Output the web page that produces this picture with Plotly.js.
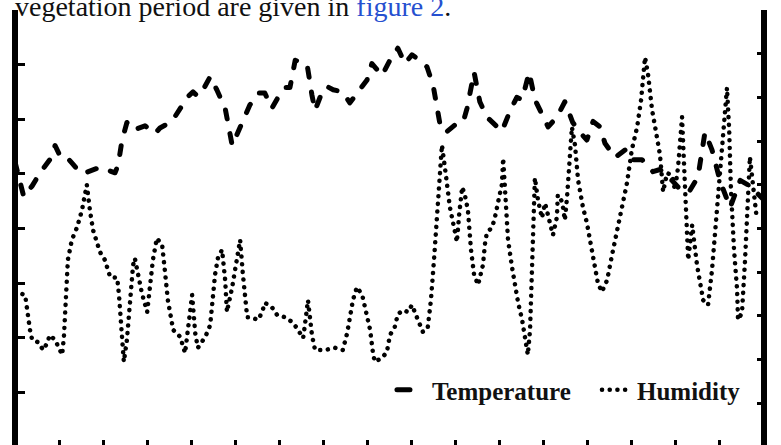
<!DOCTYPE html>
<html>
<head>
<meta charset="utf-8">
<script src="https://cdn.plot.ly/plotly-3.0.1.min.js"></script>
<style>
  html, body { margin: 0; padding: 0; background: #fff; overflow: hidden; }
  #chart { width: 781px; height: 450px; }
  .scatterlayer .js-line, .legend .js-line { stroke-linecap: round; stroke-linejoin: round; }
</style>
</head>
<body>
<div id="chart"></div>
<script>
// Day of the vegetation period (x) and readings
const tempDays = [0,2.0,3.9,5.7,7.9,9.1,10.4,11.8,12.9,14.8,15.9,19.3,22.7,23.4,24.3,25.4,26.8,29.5,31.8,32.9,35.6,37.5,39.3,40.4,41.5,42.7,44.3,45.8,47.7,49.3,50.4,51.7,53.3,55.2,56.7,58.3,59.7,61.3,62.4,63.6,66.3,67.4,68.1,69.7,70.8,72.2,74.4,76.0,77.9,79.9,81.0,83.3,85.1,86.9,88.5,90.1,91.9,93.5,94.9,95.8,96.7,98.1,99.9,101.7,102.6,104.2,105.5,107.1,110.5,112.4,113.9,115.1,116.7,118.0,119.2,121.0,123.0,124.8,126.6,128.2,129.8,131.2,132.8,133.9,136.2,138.5,139.6,142.3,144.8,146.4,149.1,151.6,153.2,155.0,156.6,158.2,160.0,162.3,164.6,166.8,170];
const temperature = [26.1,22.9,23.9,25.1,26.3,27.6,26.5,26.5,26.0,25.1,25.1,25.6,25.1,25.8,28.1,29.7,29.0,29.4,28.7,29.2,29.8,31.0,32.1,32.5,32.1,32.7,33.9,32.7,31.0,27.6,28.7,29.9,31.3,32.4,32.4,31.0,32.0,32.9,32.9,35.4,35.0,32.2,30.8,32.5,33.0,32.7,32.5,31.5,32.5,33.6,35.1,34.0,35.4,36.5,35.1,35.9,35.4,34.8,33.1,30.8,29.0,28.9,29.5,29.7,31.0,34.3,31.6,30.2,28.9,30.8,32.0,31.8,34.3,31.8,30.8,29.3,30.2,31.6,29.7,28.8,28.1,29.8,29.3,27.8,26.5,27.2,26.3,26.3,25.2,25.4,24.4,23.3,23.5,24.7,28.8,27.2,24.4,21.9,24.4,23.9,22.6];

const humDays = [0,2.3,3.4,3.9,5.2,6.4,7.3,7.9,9.1,9.8,10.7,11.1,11.6,12.0,12.9,14.1,15.2,16.3,17.0,17.7,19.3,20.4,21.6,23.2,23.6,24.3,24.7,25.4,26.1,26.8,27.2,27.9,28.8,30.0,30.6,31.3,32.2,33.4,34.0,34.7,35.9,37.5,38.6,39.3,40.2,40.9,41.5,42.4,43.6,44.3,44.9,45.4,46.1,47.0,47.7,48.1,49.3,50.2,51.1,51.7,52.7,53.3,55.2,56.1,56.7,58.3,59.5,61.3,62.9,64.0,65.4,66.0,66.5,67.4,68.1,70.4,72.6,74.4,75.4,76.7,77.6,78.8,79.7,80.6,81.3,81.7,83.3,84.4,85.1,86.2,86.9,88.1,89.2,90.1,91.2,91.9,92.6,93.7,94.4,95.1,95.8,96.9,97.8,98.7,99.9,100.3,100.8,101.5,102.1,102.8,103.5,104.2,105.1,106.2,106.7,107.1,108.3,108.9,109.6,110.5,110.8,111.2,111.9,112.8,113.5,114.2,115.1,115.8,116.4,116.9,117.3,118.0,118.7,119.6,120.3,121.4,122.1,123.0,123.2,124.2,124.8,125.3,126.0,126.4,127.1,127.8,128.9,129.8,130.5,131.6,132.3,133.2,134.4,135.5,136.9,138.0,138.9,140.0,141.2,142.1,143.0,143.7,144.6,145.3,146.4,147.1,148.0,149.1,149.8,150.5,151.4,152.1,152.8,153.7,154.8,156.2,157.3,158.2,159.3,160.5,161.6,162.1,162.5,163.2,163.9,164.1,165.0,165.7,166.4,166.8,167.5,168.4];
const humidity = [35.5,34.8,26.8,24.5,24.0,22.2,23.8,25.6,24.5,22.9,21.1,25.2,33.6,42.8,47.4,50.3,54.2,60.0,54.2,49.7,44.6,42.8,38.9,38.7,34.8,24.5,19.5,24.5,33.6,41.6,43.2,39.4,35.2,30.9,37.1,42.8,47.8,46.2,40.5,33.6,26.8,25.2,21.5,26.8,34.8,26.1,22.7,24.0,26.1,27.9,33.6,39.4,43.5,45.1,38.2,30.9,36.6,42.3,47.4,39.8,29.7,29.7,29.1,30.9,33.0,32.0,30.2,29.7,28.6,27.2,24.9,29.5,33.6,25.6,22.2,22.2,22.7,22.2,26.1,33.6,36.6,34.8,31.3,26.8,21.1,19.5,20.4,21.7,25.6,27.5,30.4,31.3,30.9,32.5,29.7,27.9,26.3,27.5,33.6,42.8,54.2,69.1,62.2,54.9,49.0,46.9,53.1,59.5,57.7,54.2,45.1,39.4,37.1,41.6,46.7,49.0,50.3,52.4,55.8,60.0,66.1,58.8,47.4,41.2,36.6,33.0,29.1,25.2,21.1,26.8,40.5,61.6,56.5,52.4,55.8,51.9,48.5,52.6,57.7,56.1,51.9,57.2,70.3,73.2,69.1,61.1,54.9,51.3,47.4,40.5,37.5,35.5,38.2,43.9,50.3,55.8,60.4,68.0,73.2,79.4,89.2,85.1,77.1,73.2,66.8,58.4,62.7,62.2,58.8,64.1,75.5,58.8,42.8,50.8,41.6,33.6,32.5,40.5,53.1,68.0,82.2,72.5,58.8,45.1,35.9,29.1,30.7,42.8,56.5,66.4,60.0,51.9];

const seriesNames = ['Temperature', 'Humidity'];
const headText = 'vegetation period are given in <span style="color:#2650d0">figure 2</span>.';

const traces = [
  {
    x: tempDays, y: temperature, name: seriesNames[0], type: 'scatter', mode: 'lines',
    yaxis: 'y', legendwidth: 160, line: {color: '#000', width: 5, dash: '9px,15px'}
  },
  {
    x: humDays, y: humidity, name: seriesNames[1], type: 'scatter', mode: 'lines',
    yaxis: 'y2', line: {color: '#000', width: 4.5, dash: '0.1px,7.6px'}
  }
];

const axisCommon = {
  showgrid: false, zeroline: false, showticklabels: false,
  showline: true, linecolor: '#000', linewidth: 6,
  ticks: 'inside', tickcolor: '#000', tickwidth: 3, fixedrange: true
};

const layout = {
  width: 781, height: 450,
  margin: {l: 15, r: 17, t: 10, b: 3, pad: 0, autoexpand: false},
  paper_bgcolor: '#fff', plot_bgcolor: '#fff',
  showlegend: true,
  legend: {
    orientation: 'h', x: 0.5033, y: 0.1304, xanchor: 'left', yanchor: 'middle',
    bgcolor: 'rgba(0,0,0,0)', borderwidth: 0,
    font: {family: 'Liberation Serif', size: 25, color: '#111', weight: 'bold'}
  },
  xaxis: Object.assign({}, axisCommon, {range: [0, 170], tick0: 0, dtick: 10, ticklen: 7}),
  yaxis: Object.assign({}, axisCommon, {range: [0, 40], tick0: 0, dtick: 5, ticklen: 7,
    anchor: 'free', position: 0}),
  yaxis2: Object.assign({}, axisCommon, {range: [0, 100], tick0: 0, dtick: 10, ticklen: 4,
    overlaying: 'y', side: 'right', anchor: 'free', position: 1}),
  annotations: [{
    xref: 'paper', yref: 'paper', x: -0.0027, y: 1.008, xanchor: 'left', yanchor: 'middle',
    showarrow: false, text: headText,
    font: {family: 'Liberation Serif', size: 28, color: '#111'}
  }]
};

Plotly.newPlot('chart', traces, layout, {displayModeBar: false, staticPlot: true}).then(function () {
  const legendLines = document.querySelectorAll('.legend .traces .js-line');
  if (legendLines.length) legendLines[0].style.strokeDasharray = '13px,40px';
});
</script>
</body>
</html>
